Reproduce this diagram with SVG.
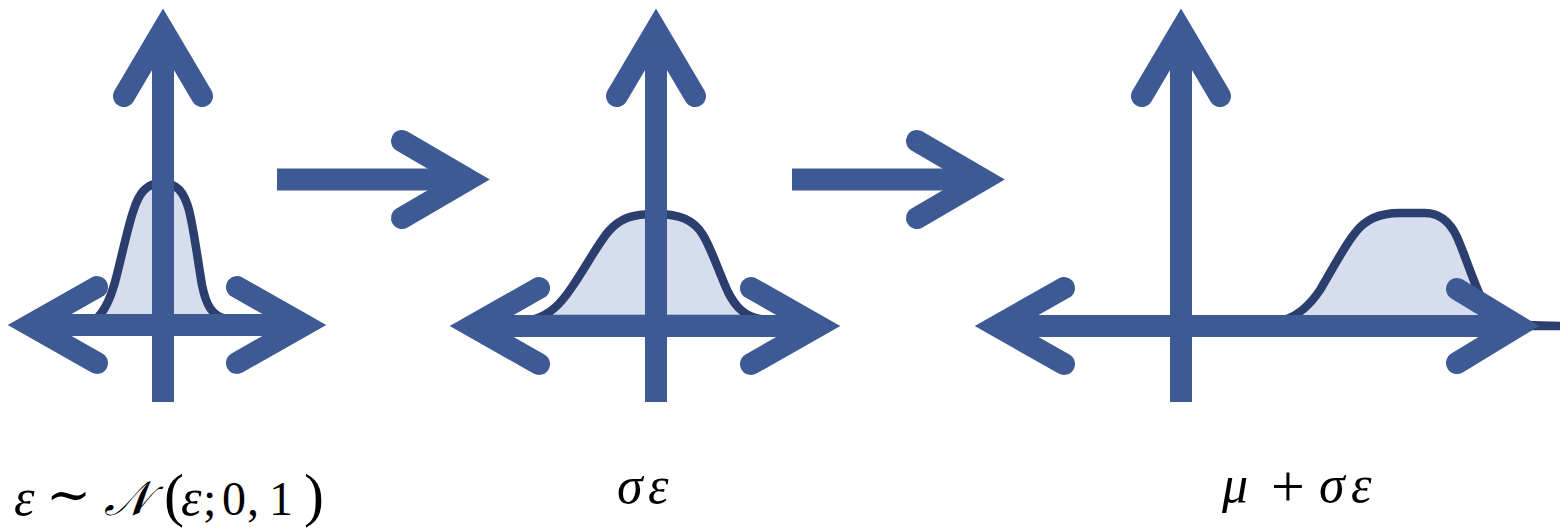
<svg xmlns="http://www.w3.org/2000/svg" width="1560" height="530" viewBox="0 0 1560 530">
<style>
.ax{fill:none;stroke:#3e5a94;stroke-width:22;stroke-linecap:butt}
.hd{fill:none;stroke:#3e5a94;stroke-width:22;stroke-linecap:round;stroke-linejoin:miter;stroke-miterlimit:4}
.crv{fill:#d5ddee;stroke:#2b3e6d;stroke-width:8.5;stroke-linejoin:round}
.lbl{font-family:"Liberation Serif","DejaVu Serif",serif;font-size:48px;fill:#000}
.it{font-style:italic}
.gk{font-style:italic;font-size:52px}
</style>
<rect width="1560" height="530" fill="#fff"/>
<g id="plot1">
<path class="crv" d="M96,319 C104,312 110,300 115,282 C121,260 127,230 133,212 C139,192 147,183 162,183 C177,183 184,192 189,210 C194,230 198,262 202,285 C206,305 212,316 226,319 Z"/>
<path class="ax" d="M163,402 V30 M30,325 H304"/>
<path class="hd" d="M124,96 L163,30 L202,96 M97,287 L30,325 L97,363 M237,287 L304,325 L237,363"/>
</g>
<g id="plot2">
<path class="crv" d="M535,319 C550,314 560,305 572,287 C585,268 598,244 608,232 C620,218 632,214 656,214 C680,214 694,220 703,235 C712,250 720,275 728,292 C736,308 745,316 760,319 Z"/>
<path class="ax" d="M656,402 V30 M472,326 H818"/>
<path class="hd" d="M617,96 L656,30 L695,96 M539,288 L472,326 L539,364 M751,288 L818,326 L751,364"/>
</g>
<g id="plot3">
<path class="crv" d="M1287,319 C1300,314 1310,305 1320,290 C1332,270 1345,245 1355,233 C1365,220 1378,213 1400,213 L1425,213 C1440,213 1450,222 1457,237 C1465,255 1472,278 1480,295 C1488,312 1500,324 1520,326 L1560,326 Z"/>
<path class="ax" d="M1181,402 V30 M997,326 H1518"/>
<path class="hd" d="M1142,96 L1181,30 L1220,96 M1064,288 L997,326 L1064,364 M1457,289 L1518,326 L1457,363"/>
</g>
<g id="connectors">
<path class="ax" d="M277,179.5 H468"/>
<path class="hd" d="M402,141 L468,179.5 L402,218"/>
<path class="ax" d="M792,179.5 H983"/>
<path class="hd" d="M917,141 L983,179.5 L917,218"/>
</g>
<g id="label1">
<text class="lbl" y="515"><tspan class="gk" x="14">ε</tspan><tspan x="46" y="513" style="font-size:54px">∼</tspan><tspan x="104" y="515" style="font-style:italic;font-size:48px">𝒩</tspan><tspan x="164" style="font-size:60px">(</tspan><tspan class="gk" x="181">ε</tspan><tspan x="203">;</tspan><tspan x="222">0</tspan><tspan x="247">,</tspan><tspan x="269">1</tspan><tspan x="304" style="font-size:60px">)</tspan></text>
</g>
<g id="label2">
<text class="lbl" y="503"><tspan class="gk" x="617">σ</tspan><tspan class="gk" x="648">ε</tspan></text>
</g>
<g id="label3">
<text class="lbl" y="502"><tspan class="gk" x="1222">μ</tspan><tspan x="1271" y="506" style="font-size:60px">+</tspan><tspan class="gk" x="1319" y="502">σ</tspan><tspan class="gk" x="1351">ε</tspan></text>
</g>
</svg>
